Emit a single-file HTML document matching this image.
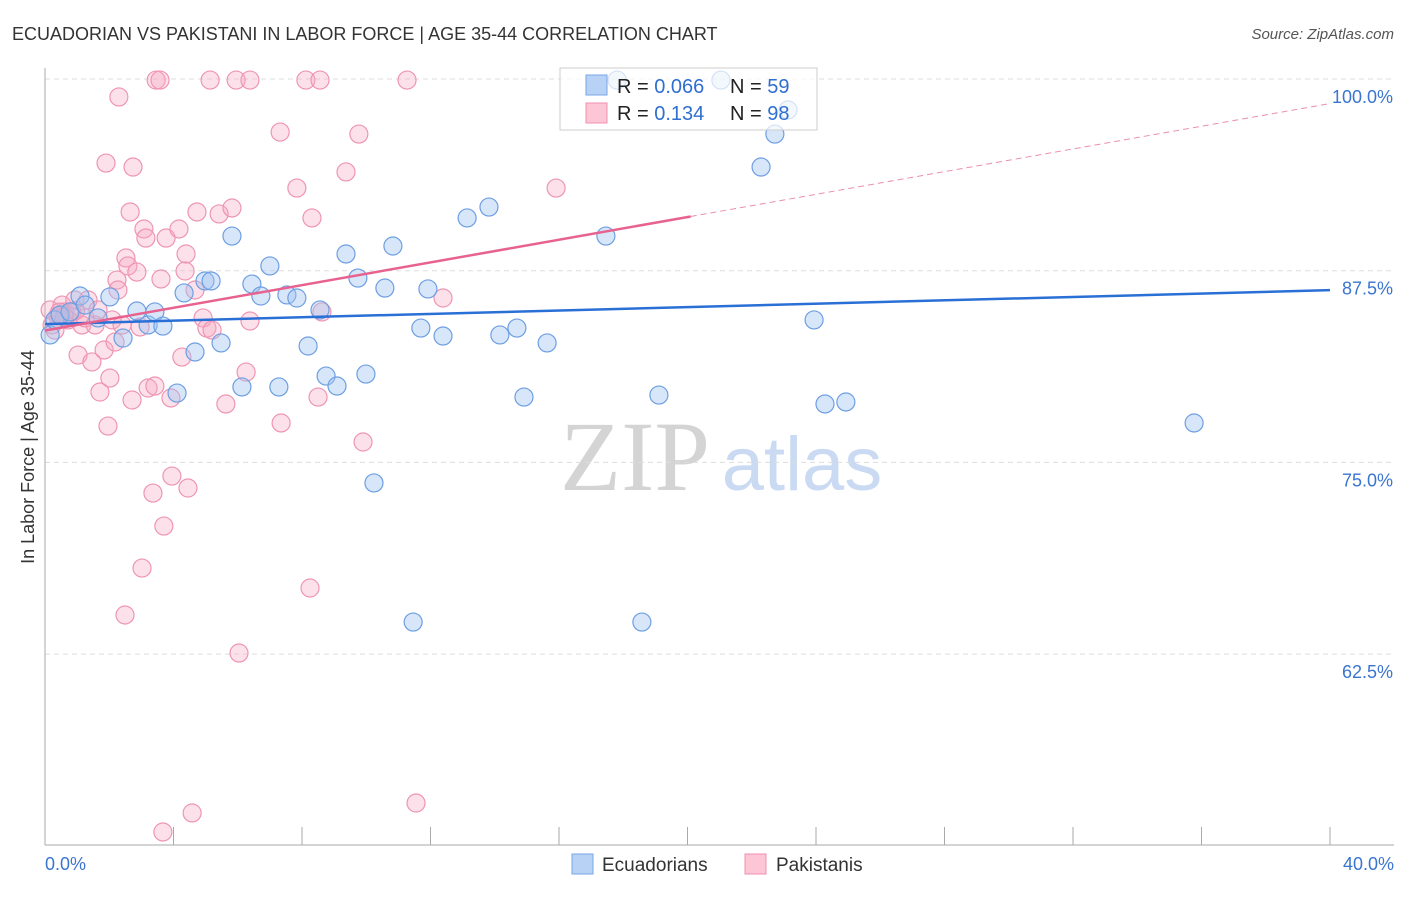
<!DOCTYPE html>
<html><head><meta charset="utf-8"><style>
body{margin:0;background:#fff;font-family:"Liberation Sans",sans-serif}
svg text{font-family:"Liberation Sans",sans-serif}
</style></head><body>
<svg id="c" width="1406" height="892">
<text x="12" y="40" font-size="18" fill="#333">ECUADORIAN VS PAKISTANI IN LABOR FORCE | AGE 35-44 CORRELATION CHART</text>
<text x="1394" y="39" font-size="15" fill="#555" font-style="italic" text-anchor="end">Source: ZipAtlas.com</text>
<text transform="translate(34,457) rotate(-90)" font-size="18" fill="#333" text-anchor="middle">In Labor Force | Age 35-44</text>
<g><text x="635" y="490" font-size="100" fill="#d4d4d4" style="font-family:'Liberation Serif',serif" text-anchor="middle">ZIP</text><text x="802" y="490" font-size="76" fill="#c9daf2" text-anchor="middle">atlas</text></g>
<g id="grid"></g><g id="dots"></g><g id="lines"></g>
<g>
<rect x="560" y="68" width="257" height="62" fill="rgba(255,255,255,0.7)" stroke="#ccc"/>
<rect x="586" y="75" width="21" height="20" fill="#b8d2f5" stroke="#7aa6e6"/>
<rect x="586" y="103" width="21" height="20" fill="#fcc6d6" stroke="#f090b0"/>
<text x="617" y="93" font-size="20" fill="#222">R = <tspan fill="#2f6fd0">0.066</tspan></text>
<text x="730" y="93" font-size="20" fill="#222">N = <tspan fill="#2f6fd0">59</tspan></text>
<text x="617" y="120" font-size="20" fill="#222">R =  <tspan fill="#2f6fd0">0.134</tspan></text>
<text x="730" y="120" font-size="20" fill="#222">N = <tspan fill="#2f6fd0">98</tspan></text>
</g>
<g>
<rect x="572" y="854" width="21" height="20" fill="#b8d2f5" stroke="#7aa6e6"/>
<text x="602" y="871" font-size="19" fill="#333">Ecuadorians</text>
<rect x="745" y="854" width="21" height="20" fill="#fcc6d6" stroke="#f090b0"/>
<text x="776" y="871" font-size="19" fill="#333">Pakistanis</text>
</g>
<text x="45" y="870" font-size="18" fill="#3a75d0">0.0%</text>
<text x="1394" y="870" font-size="18" fill="#3a75d0" text-anchor="end">40.0%</text>
</svg>
<script>
const yTicks=[100,87.5,75,62.5];
const yTickLabels=["100.0%","87.5%","75.0%","62.5%"];
const xTicks=[0,4,8,12,16,20,24,28,32,36,40];
const blueX=[0.16,0.31,0.47,0.78,1.09,1.25,1.65,2.02,2.43,2.86,3.21,3.42,3.67,4.11,4.33,4.67,4.98,5.17,5.48,5.82,6.13,6.44,6.72,7.00,7.28,7.53,7.84,8.19,8.56,8.75,9.09,9.37,9.74,9.99,10.24,10.58,10.83,11.46,11.70,11.92,12.39,13.14,13.82,14.16,14.69,14.91,15.63,17.46,18.58,19.11,21.04,17.81,22.29,22.72,23.13,23.94,24.28,24.93,35.77];
const blueY=[83.31,84.29,84.61,84.81,85.85,85.26,84.42,85.79,83.11,84.87,83.96,84.81,83.89,79.52,86.05,82.20,86.83,86.83,82.79,89.76,79.92,86.63,85.85,87.81,79.92,85.92,85.72,82.59,84.94,80.63,79.98,88.59,87.02,80.76,73.66,86.37,89.11,64.59,83.76,86.31,83.24,90.94,91.65,83.31,83.76,79.26,82.79,89.76,64.59,79.39,99.93,99.93,94.26,96.41,97.98,84.29,78.81,78.94,77.57];
const pinkX=[0.16,0.22,0.31,0.40,0.53,0.62,0.72,0.84,0.93,1.03,1.15,1.25,1.34,1.46,1.56,1.65,1.71,1.84,1.90,1.96,2.02,2.09,2.18,2.24,2.27,2.30,2.40,2.49,2.52,2.58,2.65,2.71,2.74,2.86,2.96,3.02,3.08,3.14,3.21,3.36,3.42,3.46,3.58,3.61,3.70,3.77,3.67,3.92,3.95,4.17,4.26,4.36,4.39,4.45,4.58,4.67,4.73,4.92,5.04,5.14,5.20,5.42,5.63,5.82,5.95,6.04,6.26,6.38,6.38,7.32,7.35,7.84,8.12,8.25,8.31,8.50,8.56,8.62,9.37,9.77,9.90,11.27,11.55,12.39,15.91,0.45,0.95,0.6];
const pinkY=[84.94,83.96,83.63,84.55,85.26,84.81,84.29,84.81,85.59,82.00,83.96,84.42,85.59,81.55,83.96,84.94,79.59,82.33,94.52,77.37,80.50,84.29,82.85,86.89,86.24,98.83,83.96,65.05,88.33,87.81,91.33,79.07,94.26,87.41,83.83,68.11,90.22,89.63,79.85,73.00,79.98,99.93,99.93,86.96,70.85,89.63,50.90,79.20,74.11,90.22,81.87,87.48,88.59,73.33,52.14,86.24,91.33,84.42,83.76,99.93,83.63,91.20,78.81,91.59,99.93,62.57,80.89,99.93,84.22,96.54,77.57,92.89,99.93,66.81,90.94,79.26,99.93,84.81,93.94,96.41,76.33,99.93,52.79,85.72,92.89,84.8,84.9,84.5];
const blueTrend=[84.02,86.23];
const pinkTrend=[83.6,98.4];
const pinkSolidEnd=20.1;
const NS="http://www.w3.org/2000/svg";
const X=v=>45+v*32.125, Y=v=>79+(100-v)*15.336;
function mk(t,a,p){const e=document.createElementNS(NS,t);for(const k in a)e.setAttribute(k,a[k]);p.appendChild(e);return e;}
const g=document.getElementById('grid');
yTicks.forEach((t,i)=>{
 const l=mk('line',{x1:45,x2:1394,y1:Y(t),y2:Y(t),stroke:'#ddd','stroke-dasharray':'5,4'},g);
 
 
 const tx=mk('text',{x:1393,y:Y(t)+24,'font-size':18,fill:'#3a75d0','text-anchor':'end'},g);
 tx.textContent=yTickLabels[i];
 
 
});
const ax=mk('line',{x1:45,x2:1394,y1:845,y2:845,stroke:'#aaa'},g);


const ay=mk('line',{x1:45,x2:45,y1:68,y2:845,stroke:'#aaa'},g);


xTicks.forEach(t=>{
 const l=mk('line',{x1:X(t),x2:X(t),y1:827,y2:845,stroke:'#aaa'},g);
 
 
});
const d=document.getElementById('dots');
pinkX.forEach((v,i)=>{
 const c=mk('circle',{cx:X(v),cy:Y(pinkY[i]),r:9,fill:'rgba(246,170,196,0.35)',stroke:'#ee95b3','stroke-width':1.2},d);
 
 
});
blueX.forEach((v,i)=>{
 const c=mk('circle',{cx:X(v),cy:Y(blueY[i]),r:9,fill:'rgba(160,196,240,0.42)',stroke:'#6e9fe2','stroke-width':1.2},d);
 
 
});
const L=document.getElementById('lines');
const pv=x=>pinkTrend[0]+(pinkTrend[1]-pinkTrend[0])*x/40;
const b=mk('line',{x1:X(0),y1:Y(blueTrend[0]),x2:X(40),y2:Y(blueTrend[1]),stroke:'#2a6fd6','stroke-width':2.5},L);


const p=mk('line',{x1:X(0),y1:Y(pv(0)),x2:X(pinkSolidEnd),y2:Y(pv(pinkSolidEnd)),stroke:'#e8628f','stroke-width':2.5},L);


const pd=mk('line',{x1:X(pinkSolidEnd),y1:Y(pv(pinkSolidEnd)),x2:X(40),y2:Y(pv(40)),stroke:'#eb8fae','stroke-width':1,'stroke-dasharray':'6,4'},L);


</script>
</body></html>
